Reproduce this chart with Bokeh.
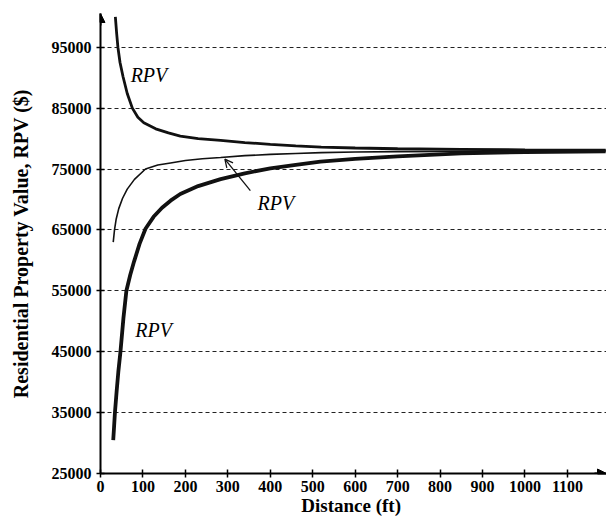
import numpy as np
from bokeh.plotting import figure
from bokeh.models import Range1d, FixedTicker, Label, Arrow, NormalHead, OpenHead
from bokeh.embed import file_html
from bokeh.resources import INLINE

# ---- data ----
dist_upper = [35, 38, 41, 46, 53, 63, 75, 88, 102, 130, 160, 188, 230, 283, 340, 400,
              460, 520, 600, 700, 850, 1000, 1190]
rpv_upper = [100000, 97300, 95000, 92500, 90200, 87400, 85000, 83500, 82600, 81600, 80950,
             80400, 80000, 79700, 79350, 79050, 78800, 78600, 78450, 78330, 78230, 78150, 78100]

dist_mid = [30, 33, 37, 43, 52, 63, 80, 106, 135, 165, 200, 240, 283, 340, 400, 460, 520,
            600, 700, 850, 1000, 1190]
rpv_mid = [63000, 65000, 66800, 68500, 70200, 71700, 73300, 75000, 75650, 76000, 76400,
           76700, 76900, 77200, 77400, 77550, 77700, 77800, 77850, 77900, 77930, 77950]

dist_lower = [30, 32, 34, 38, 42, 47, 54, 61, 70, 79, 92, 106, 125, 145, 165, 188, 230,
              283, 340, 400, 460, 518, 600, 700, 850, 1000, 1190]
rpv_lower = [30500, 32700, 35000, 38500, 41700, 45000, 50500, 55000, 57600, 59800, 62700,
             65200, 67150, 68650, 69800, 70900, 72200, 73350, 74300, 75100, 75700, 76230,
             76650, 77080, 77580, 77780, 77900]

x_ticks = [0, 100, 200, 300, 400, 500, 600, 700, 800, 900, 1000, 1100]
y_ticks = [25000, 35000, 45000, 55000, 65000, 75000, 85000, 95000]

curve_label = "RPV"
x_title = "Distance  (ft)"
y_title = "Residential Property Value, RPV ($)"

# ---- layout constants ----
X_END = 1192
Y_START, Y_END = 25000, 100540
W, H = 606, 521
B_LEFT, B_RIGHT, B_TOP, B_BOTTOM = 100, 0, 13, 48
frame_h = H - B_TOP - B_BOTTOM
frame_w = W - B_LEFT - B_RIGHT
uy = (Y_END - Y_START) / frame_h   # data units per pixel (y)
ux = X_END / frame_w               # data units per pixel (x)

FONT = "Liberation Serif"
INK = "#111111"

p = figure(width=W, height=H, x_range=Range1d(0, X_END), y_range=Range1d(Y_START, Y_END),
           output_backend="svg", toolbar_location=None,
           min_border_left=B_LEFT, min_border_right=B_RIGHT,
           min_border_top=B_TOP, min_border_bottom=B_BOTTOM)
p.outline_line_color = None
p.background_fill_color = "white"
p.border_fill_color = "white"

p.xgrid.visible = False
p.ygrid.grid_line_color = "#222222"
p.ygrid.grid_line_dash = "4 3"
p.ygrid.grid_line_width = 1.2

p.xaxis.ticker = FixedTicker(ticks=x_ticks)
p.yaxis.ticker = FixedTicker(ticks=y_ticks)
for ax in (p.xaxis, p.yaxis):
    ax.axis_line_width = 2
    ax.axis_line_color = "black"
    ax.major_tick_line_color = "black"
    ax.major_tick_line_width = 1.5
    ax.major_tick_in = 4
    ax.major_tick_out = 4
    ax.minor_tick_line_color = None
    ax.major_label_text_font = FONT
    ax.major_label_text_font_style = "bold"
    ax.major_label_text_font_size = "16px"
    ax.major_label_text_color = "black"
    ax.axis_label_text_font = FONT
    ax.axis_label_text_font_style = "bold"
    ax.axis_label_text_color = "black"
p.yaxis.major_label_standoff = 5
p.xaxis.major_label_standoff = 3

p.xaxis.axis_label = x_title
p.xaxis.axis_label_text_font_size = "19px"
p.xaxis.axis_label_standoff = 0
p.yaxis.axis_label = y_title
p.yaxis.axis_label_text_font_size = "20px"
p.yaxis.axis_label_standoff = 17

# curves
p.line(dist_upper, rpv_upper, line_width=2.8, line_color=INK)
p.line(dist_mid, rpv_mid, line_width=1.6, line_color=INK)
p.line(dist_lower, rpv_lower, line_width=3.8, line_color=INK)

# axis arrows
p.add_layout(Arrow(end=NormalHead(size=9, fill_color="black", line_color="black"),
                   x_start=0, y_start=Y_END - 12 * uy, x_end=0, y_end=Y_END,
                   line_width=2, line_color="black"))
p.add_layout(Arrow(end=NormalHead(size=9, fill_color="black", line_color="black"),
                   x_start=X_END - 12 * ux, y_start=Y_START, x_end=X_END, y_end=Y_START,
                   line_width=2, line_color="black"))

# curve labels
for lx, ly in [(71, 90470), (370, 69460), (82, 48616)]:
    p.add_layout(Label(x=lx, y=ly, text=curve_label, text_font=FONT,
                       text_font_style="italic", text_font_size="20px",
                       text_color="black", text_baseline="alphabetic"))

# pointer arrow
p.add_layout(Arrow(end=OpenHead(size=8, line_width=1.3, line_color=INK),
                   x_start=353, y_start=71466, x_end=293, y_end=76629,
                   line_width=1.3, line_color=INK))

open("out.html", "w").write(file_html(p, INLINE))
